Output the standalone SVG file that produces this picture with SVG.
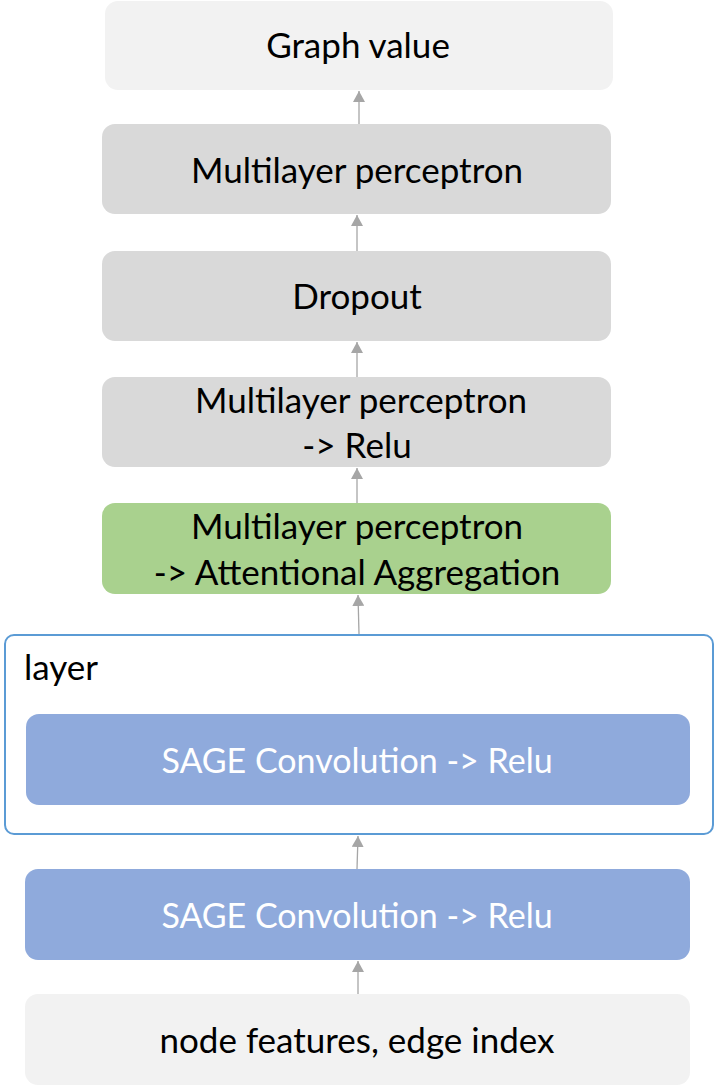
<svg xmlns="http://www.w3.org/2000/svg" width="714" height="1086" viewBox="0 0 714 1086">
<defs>
<marker id="ah" viewBox="0 0 12 12" refX="11" refY="6" markerWidth="12" markerHeight="12" markerUnits="userSpaceOnUse" orient="auto">
<path d="M0,0 L11,6 L0,12 Z" fill="#a6a6a6"/>
</marker>
<style>
text{font-family:"Lato","Liberation Sans",sans-serif;font-size:35px;text-anchor:middle;fill:#000}
.light{fill:#f2f2f2}
.gray{fill:#d9d9d9}
.green{fill:#a9d18e}
.blue{fill:#8faadc}
.wt{fill:#ffffff;font-size:34px}
.conn line{stroke:#a6a6a6;stroke-width:1.3}
</style>
</defs>
<rect width="714" height="1086" fill="#ffffff"/>
<g id="graph-value"><rect class="light" x="105" y="1" width="508" height="89" rx="13"/><text x="358" y="58">Graph value</text></g>
<g id="mlp-top"><rect class="gray" x="102" y="124" width="509" height="90" rx="13"/><text x="357" y="183">Multilayer perceptron</text></g>
<g id="dropout"><rect class="gray" x="102" y="251" width="509" height="90" rx="13"/><text x="357" y="309">Dropout</text></g>
<g id="mlp-relu"><rect class="gray" x="102" y="377" width="509" height="90" rx="13"/><text x="361" y="413">Multilayer perceptron</text><text x="357" y="458">-&gt; Relu</text></g>
<g id="mlp-attn"><rect class="green" x="102" y="503" width="509" height="91" rx="13"/><text x="357" y="539">Multilayer perceptron</text><text x="357" y="585">-&gt; Attentional Aggregation</text></g>
<g id="layer"><rect x="5" y="635" width="708" height="199" rx="9" fill="#ffffff" stroke="#5b9bd5" stroke-width="2"/><text x="24" y="680" style="text-anchor:start">layer</text>
<g id="sage-inner"><rect class="blue" x="26" y="714" width="664" height="91" rx="13"/><text class="wt" x="357" y="773">SAGE Convolution -&gt; Relu</text></g></g>
<g id="sage-bottom"><rect class="blue" x="25" y="869" width="665" height="91" rx="13"/><text class="wt" x="357" y="928">SAGE Convolution -&gt; Relu</text></g>
<g id="input"><rect class="light" x="25" y="994" width="665" height="91" rx="13"/><text x="357" y="1053">node features, edge index</text></g>
<g class="conn" id="connectors">
<line x1="359" y1="124" x2="359" y2="91" marker-end="url(#ah)"/>
<line x1="357" y1="251" x2="357" y2="215" marker-end="url(#ah)"/>
<line x1="357" y1="377" x2="357" y2="342" marker-end="url(#ah)"/>
<line x1="357" y1="503" x2="357" y2="468" marker-end="url(#ah)"/>
<line x1="359" y1="634" x2="358" y2="595" marker-end="url(#ah)"/>
<line x1="357" y1="869" x2="358" y2="836" marker-end="url(#ah)"/>
<line x1="358" y1="994" x2="358" y2="961" marker-end="url(#ah)"/>
</g>
</svg>
